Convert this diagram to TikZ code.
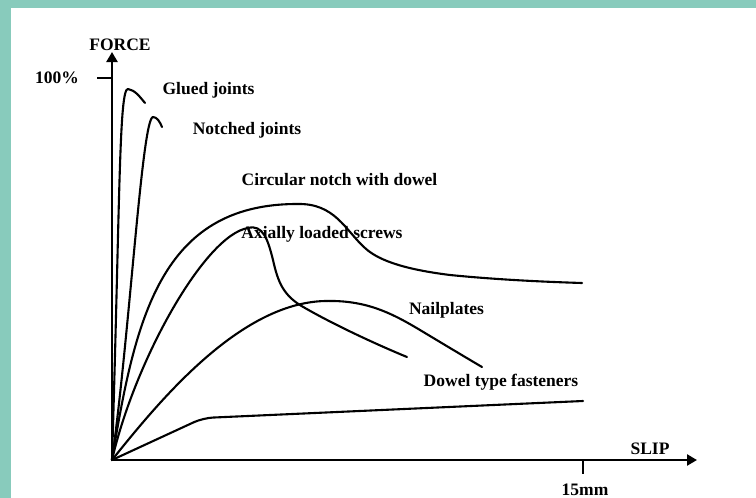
\documentclass[tikz,border=0pt]{standalone}
\usepackage{fontspec}
\setmainfont{Liberation Serif}
\usetikzlibrary{arrows.meta}
\definecolor{frame}{RGB}{136,203,188}
\tikzset{
  axisline/.style={line width=2.6pt,-{Triangle[length=10pt,width=11pt]}},
  tickline/.style={line width=2.6pt},
  curve/.style={line width=2.1pt,line join=round,line cap=round},
  lbl/.style={font=\fontsize{17.5}{19}\selectfont\bfseries,text=black,inner sep=0pt}
}
\begin{document}
\begin{tikzpicture}[x=1pt,y=-1pt]
\useasboundingbox (0,0) rectangle (756,498);
\fill[frame] (0,0) rectangle (756,498);
\fill[white] (11,8) rectangle (756,498);
\coordinate (O) at (112,460);
\coordinate (ytop) at (112,52);
\coordinate (xend) at (697,460);
\coordinate (t100a) at (97,78);
\coordinate (t100b) at (112,78);
\coordinate (t15a) at (583,460);
\coordinate (t15b) at (583,474);
% glued joints
\draw[curve] (O) .. controls (120,200) and (119,88) .. (128,89)
  .. controls (135,90) and (140,97) .. (145,103);
% notched joints
\draw[curve] (O) .. controls (130,330) and (142,118) .. (153,117)
  .. controls (157,117) and (160,122) .. (162,127);
% circular notch with dowel
\draw[curve] (O) .. controls (135,320) and (160,204) .. (297,204)
  .. controls (335,203) and (345,230) .. (365,248)
  .. controls (380,262) and (410,270) .. (450,275)
  .. controls (500,280) and (550,282) .. (582,283);
% axially loaded screws
\draw[curve] (O) .. controls (135,360) and (205,235) .. (248,228)
  .. controls (263,224) and (268,240) .. (273,260)
  .. controls (278,282) and (283,296) .. (305,308)
  .. controls (340,328) and (385,348) .. (407,357);
% nailplates
\draw[curve] (O) .. controls (160,400) and (240,303) .. (325,301)
  .. controls (365,300) and (390,312) .. (420,330)
  .. controls (445,345) and (465,357) .. (482,367);
% dowel type fasteners
\draw[curve,rounded corners=10pt] (O) -- (203,418) -- (583,401);
% axes
\draw[axisline] (O) -- (ytop);
\draw[axisline] (O) -- (xend);
\draw[tickline] (t100a) -- (t100b);
\draw[tickline] (t15a) -- (t15b);
% labels
\node[lbl] (force) at (120,45) {FORCE};
\node[lbl] (p100) at (57,78) {100\%};
\node[lbl] (slip) at (650,449) {SLIP};
\node[lbl] (mm15) at (585,490) {15mm};
\node[lbl] (glued) at (208.5,90) {Glued joints};
\node[lbl] (notched) at (247,130) {Notched joints};
\node[lbl] (circ) at (339.5,180) {Circular notch with dowel};
\node[lbl] (axial) at (322,234) {Axially loaded screws};
\node[lbl] (nail) at (446.5,310) {Nailplates};
\node[lbl] (dowel) at (501,382) {Dowel type fasteners};
\end{tikzpicture}
\end{document}
